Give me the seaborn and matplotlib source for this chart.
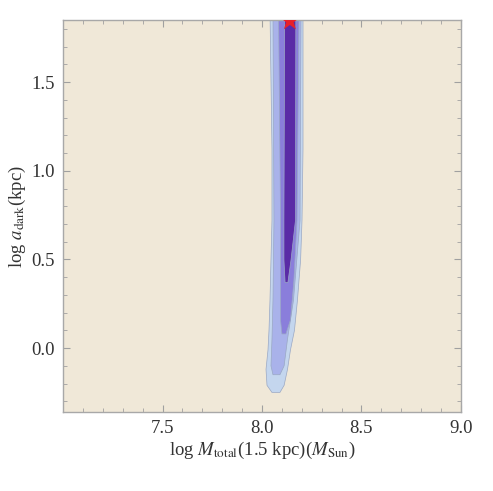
import numpy as np
import matplotlib
matplotlib.use("Agg")
import matplotlib.pyplot as plt
import seaborn as sns
from matplotlib.ticker import MultipleLocator

sns.set_theme(style="ticks")
plt.rcParams['font.family'] = ['Liberation Serif', 'DejaVu Serif']
plt.rcParams['mathtext.fontset'] = 'stix'

# Credible-region boundaries (outermost first)
lvl1_y = [1.90, 1.12, 0.72, 0.50, 0.27, 0.10, -0.01, -0.12, -0.21, -0.25]
lvl1_l = [8.040, 8.050, 8.050, 8.045, 8.040, 8.035, 8.030, 8.020, 8.025, 8.050]
lvl1_r = [8.206, 8.206, 8.201, 8.194, 8.178, 8.163, 8.143, 8.128, 8.111, 8.090]

lvl2_y = [1.90, 0.72, 0.27, 0.05, -0.10, -0.15]
lvl2_l = [8.055, 8.060, 8.055, 8.050, 8.045, 8.055]
lvl2_r = [8.196, 8.191, 8.158, 8.128, 8.111, 8.090]

lvl3_y = [1.90, 0.72, 0.38, 0.16, 0.08]
lvl3_l = [8.083, 8.093, 8.093, 8.093, 8.100]
lvl3_r = [8.186, 8.176, 8.160, 8.143, 8.120]

lvl4_y = [1.90, 0.72, 0.50, 0.37]
lvl4_l = [8.114, 8.110, 8.110, 8.116]
lvl4_r = [8.170, 8.168, 8.146, 8.130]

best_x = [8.14]
best_y = [1.845]

levels = [(lvl1_y, lvl1_l, lvl1_r, "#C4D6EE"),
          (lvl2_y, lvl2_l, lvl2_r, "#A9B2EA"),
          (lvl3_y, lvl3_l, lvl3_r, "#8A7EDB"),
          (lvl4_y, lvl4_l, lvl4_r, "#5A2BA6")]

fig = plt.figure(figsize=(4.93, 4.91), dpi=100)
ax = fig.add_axes([0.128, 0.161, 0.807, 0.798])
ax.set_facecolor("#F0E8D8")

for ys, ls, rs, col in levels:
    xs = list(ls) + list(rs)[::-1]
    yy = list(ys) + list(ys)[::-1]
    ax.fill(xs, yy, facecolor=col, edgecolor="#9AA8C4", linewidth=0.5)

sns.scatterplot(x=best_x, y=best_y, ax=ax, color="#E8202A", s=220,
                marker="*", edgecolor="none", legend=False, zorder=5)

ax.set_xlim(7.0, 9.0)
ax.set_ylim(-0.36, 1.85)
ax.xaxis.set_minor_locator(MultipleLocator(0.1))
ax.yaxis.set_minor_locator(MultipleLocator(0.1))
ax.set_xticks([7.5, 8.0, 8.5, 9.0])
ax.set_xticklabels(["7.5", "8.0", "8.5", "9.0"])
ax.set_yticks([0.0, 0.5, 1.0, 1.5])
ax.set_yticklabels(["0.0", "0.5", "1.0", "1.5"])
ax.tick_params(which="both", direction="in", top=True, right=True,
               color="#A0A0A0", labelsize=13.5, labelcolor="#333333", pad=6)
ax.tick_params(which="major", length=5, width=0.8)
ax.tick_params(which="minor", length=3, width=0.6)
for s in ax.spines.values():
    s.set_color("#A8A8A8")
    s.set_linewidth(1.0)

ax.set_xlabel(r"log $M_{\rm total}$(1.5 kpc)($M_{\rm Sun}$)", fontsize=13.5,
              color="#333333", labelpad=2)
ax.set_ylabel(r"log $a_{\rm dark}$(kpc)", fontsize=13.5, color="#333333",
              labelpad=2)

fig.savefig("out.png", dpi=100, facecolor="white")
